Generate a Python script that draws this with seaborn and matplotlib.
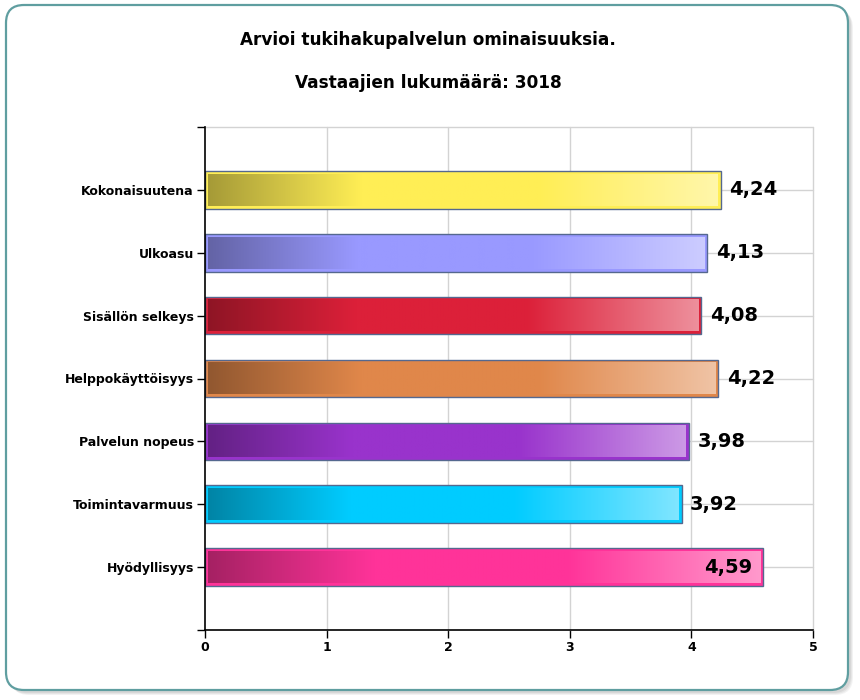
import numpy as np
import pandas as pd
import matplotlib
matplotlib.use("Agg")
import matplotlib.pyplot as plt
import seaborn as sns
from matplotlib.patches import FancyBboxPatch
from matplotlib.transforms import IdentityTransform
from matplotlib.colors import to_rgb

# ---- data ----
categories = ["Kokonaisuutena", "Ulkoasu", "Sisällön selkeys", "Helppokäyttöisyys",
              "Palvelun nopeus", "Toimintavarmuus", "Hyödyllisyys"]
values = [4.24, 4.13, 4.08, 4.22, 3.98, 3.92, 4.59]
bar_colors = ["#FFEE55", "#9999FF", "#DC2039", "#E0874A", "#9933CC", "#00CCFF", "#FF3399"]
x_ticks = [0, 1, 2, 3, 4, 5]
title = "Arvioi tukihakupalvelun ominaisuuksia."
subtitle = "Vastaajien lukumäärä: 3018"

df = pd.DataFrame({"category": categories, "value": values})

sns.set_theme(style="white")
plt.rcParams["font.family"] = ["DejaVu Sans"]
plt.rcParams["text.color"] = "black"
plt.rcParams["xtick.color"] = "black"
plt.rcParams["ytick.color"] = "black"
plt.rcParams["xtick.labelcolor"] = "black"
plt.rcParams["ytick.labelcolor"] = "black"

fig = plt.figure(figsize=(8.6, 7.0), dpi=100)
fig.patch.set_facecolor("white")

# rounded frame with shadow (pixel coordinates)
for off, alpha in [(5, 0.10), (4, 0.12), (3, 0.15)]:
    sh = FancyBboxPatch((6 + off, 10 - off), 842, 685,
                        boxstyle="round,pad=0,rounding_size=18",
                        transform=IdentityTransform(), facecolor="#888888",
                        edgecolor="none", alpha=alpha, zorder=-3)
    fig.patches.append(sh)
frame = FancyBboxPatch((6, 10), 842, 685, boxstyle="round,pad=0,rounding_size=18",
                       transform=IdentityTransform(), facecolor="white",
                       edgecolor="#5F9EA0", linewidth=1.6, zorder=-2)
fig.patches.append(frame)

ax = fig.add_axes([205 / 860, 1 - 630 / 700, (813 - 205) / 860, (630 - 127) / 700])
ax.set_facecolor("none")

sns.barplot(data=df, x="value", y="category", hue="category", palette=bar_colors,
            orient="h", width=0.6, legend=False, ax=ax,
            edgecolor="#55688F", linewidth=1.0, zorder=3)

ax.set_xlim(0, 5)
ax.set_ylim(7, -1)

# gradients inside bars
px_x = 5 / (813 - 205)
px_y = 8 / (630 - 127)
for p in ax.patches:
    x0, y0 = p.get_x(), p.get_y()
    w, h = p.get_width(), p.get_height()
    if w <= 0:
        continue
    idx = int(round(y0 + h / 2))
    base = np.array(to_rgb(bar_colors[idx]))
    p.set_facecolor(base)
    dark = base * 0.65
    light = base * 0.5 + 0.5
    N = 256
    t = np.linspace(0, 1, N)
    grad = np.zeros((1, N, 3))
    for i, tt in enumerate(t):
        if tt < 0.3:
            f = tt / 0.3
            c = dark * (1 - f) + base * f
        elif tt < 0.65:
            c = base
        else:
            f = (tt - 0.65) / 0.35
            c = base * (1 - f) + light * f
        grad[0, i] = c
    ins_x = 3 * px_x
    ins_y = 3 * px_y
    ax.imshow(grad, extent=(x0 + ins_x, x0 + w - ins_x, y0 + h - ins_y, y0 + ins_y),
              aspect="auto", interpolation="bilinear", zorder=4)
    # value label
    lbl = f"{values[idx]:.2f}".replace(".", ",")
    if values[idx] > 4.5:
        ax.text(x0 + w - 0.09, idx, lbl, ha="right", va="center",
                fontsize=14, fontweight="bold", color="black", zorder=6)
    else:
        ax.text(x0 + w + 0.07, idx, lbl, ha="left", va="center",
                fontsize=14, fontweight="bold", color="black", zorder=6)

ax.set_xlim(0, 5)
ax.set_ylim(7, -1)

# grid
for xv in x_ticks[1:]:
    ax.axvline(xv, color="#D3D3D3", linewidth=1.0, zorder=1, clip_on=False)
for yv in range(-1, len(categories)):
    ax.axhline(yv, color="#D3D3D3", linewidth=1.0, zorder=1, clip_on=False)

# ticks
ax.set_xticks(x_ticks)
ax.set_xticklabels([str(v) for v in x_ticks], fontsize=9, fontweight="bold", color="black")
ax.set_yticks(list(range(-1, len(categories) + 1)))
ax.set_yticklabels([""] + categories + [""], fontsize=9, fontweight="bold", color="black")
ax.tick_params(axis="both", which="both", length=6, width=1.0, color="black",
               labelcolor="black", direction="out", pad=2, left=True, bottom=True)
ax.set_xlabel("")
ax.set_ylabel("")

for side in ["top", "right"]:
    ax.spines[side].set_visible(False)
for side in ["left", "bottom"]:
    ax.spines[side].set_visible(True)
    ax.spines[side].set_color("black")
    ax.spines[side].set_linewidth(1.2)
    ax.spines[side].set_zorder(7)

fig.text(428 / 860, 1 - 40 / 700, title, ha="center", va="center",
         fontsize=12.2, fontweight="bold", color="black")
fig.text(428 / 860, 1 - 83 / 700, subtitle, ha="center", va="center",
         fontsize=12.2, fontweight="bold", color="black")

fig.savefig("out.png", dpi=100, facecolor="white")
